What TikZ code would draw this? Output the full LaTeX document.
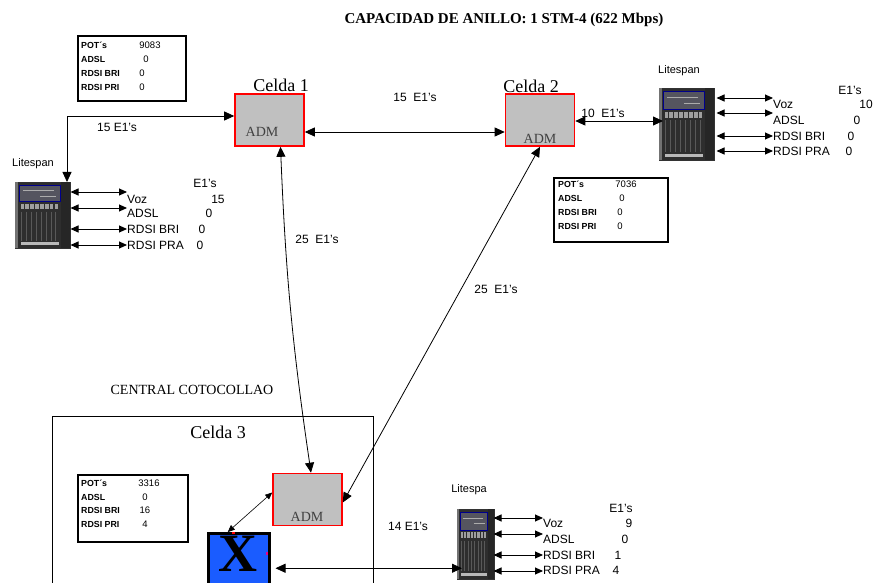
\documentclass[tikz,border=0pt]{standalone}
\usepackage{fontspec}
\setmainfont{Liberation Serif}
\setsansfont{Liberation Sans}
\usetikzlibrary{arrows.meta,calc}

\definecolor{admgray}{HTML}{C0C0C0}
\definecolor{swblue}{HTML}{1A5CFF}
\definecolor{devbody}{HTML}{2E2E2E}
\definecolor{devpanel}{HTML}{55555F}

\tikzset{
  admbox/.style={draw=red, line width=1.6pt, fill=admgray, minimum width=69pt, minimum height=52pt, inner sep=0pt},
  admtext/.style={font=\fontsize{14}{14}\selectfont, text=black!75, inner sep=0pt},
  celda/.style={font=\fontsize{18}{18}\selectfont, inner sep=0pt},
  infobox/.style={draw=black, line width=2.2pt, anchor=north west, inner sep=0pt},
  infokey/.style={font=\sffamily\bfseries\fontsize{8.8}{8.8}\selectfont, anchor=west, inner sep=0pt},
  infoval/.style={font=\sffamily\fontsize{9.5}{9.5}\selectfont, inner sep=0pt},
  lbl/.style={font=\sffamily\fontsize{12}{12}\selectfont, inner sep=0pt},
  rowlbl/.style={lbl, anchor=west},
  devbox/.style={draw=black!80, line width=0.5pt, fill=devbody, inner sep=0pt},
  link/.style={line width=0.8pt, {Triangle[length=10pt,width=9pt]}-{Triangle[length=10pt,width=9pt]}},
  rowlink/.style={line width=0.9pt, {Triangle[length=8pt,width=7pt]}-{Triangle[length=8pt,width=7pt]}},
  thinlink/.style={line width=0.6pt, {Triangle[length=7pt,width=6pt]}-{Triangle[length=7pt,width=6pt]}},
}

% Litespan shelf: name, x, y (top-left corner), width, height
\newcommand\drawlitespan[5]{%
  \node[devbox, anchor=north west, minimum width=#4pt, minimum height=#5pt] (#1) at (#2,#3) {};
  \begin{scope}[shift={(#2,#3)}, xscale=#4, yscale=#5]
    \fill[black!55] (0,0) rectangle (0.06,1);
    \fill[devpanel] (0.08,0.05) rectangle (0.82,0.3);
    \draw[blue!55!black, line width=0.6pt] (0.08,0.05) rectangle (0.82,0.3);
    \draw[gray!65, line width=0.6pt] (0.15,0.13) -- (0.7,0.13) (0.45,0.21) -- (0.75,0.21);
    \foreach \k in {0,...,7} \fill[gray!75] (0.1+\k*0.09,0.33) rectangle ++(0.06,0.08);
    \foreach \k in {1,...,8} \draw[black!65, line width=0.4pt] (\k*0.09+0.02,0.45) -- (\k*0.09+0.02,0.89);
    \fill[gray!55] (0.1,0.91) rectangle (0.8,0.96);
    \fill[black!85] (0.84,0) rectangle (1,1);
  \end{scope}}

\begin{document}
\begin{tikzpicture}[x=1pt, y=-1pt]
\useasboundingbox (0,0) rectangle (879,583);
\fill[white] (0,0) rectangle (879,583);
\clip (0,0) rectangle (879,583);

% title
\node[font=\bfseries\fontsize{15}{15}\selectfont, inner sep=0pt] (title) at (504,20) {CAPACIDAD DE ANILLO: 1 STM-4 (622 Mbps)};

% ---- ring nodes ----
\node[celda] (c1) at (281,85) {Celda 1};
\node[admbox] (adm1) at (269.5,120) {};
\node[admtext] (adm1t) at (262,132) {ADM};

\node[celda] (c2) at (531,86) {Celda 2};
\node[admbox] (adm2) at (540,120) {};
\node[admtext] (adm2t) at (540,139) {ADM};

% central office
\node[font=\fontsize{14}{14}\selectfont, inner sep=0pt] (cot) at (192,390) {CENTRAL COTOCOLLAO};
\node[draw=black, line width=0.8pt, anchor=north west, minimum width=321pt, minimum height=200pt, inner sep=0pt] (central) at (52,416) {};
\node[celda] (c3) at (218,432) {Celda 3};
\node[admbox] (adm3) at (307.5,499.5) {};
\node[admtext] (adm3t) at (307,517) {ADM};

% cross-connect
\node[draw=black, line width=2.5pt, fill=swblue, anchor=north west, minimum width=61pt, minimum height=56pt, inner sep=0pt] (sw) at (207,532) {};
\node[font=\bfseries\fontsize{54}{54}\selectfont, inner sep=0pt] (swx) at (237.5,554) {X};
\fill[red] (232,531.5) rectangle (234.5,534);
\fill[magenta] (265.5,552) rectangle (268,554.5);

% ---- Litespan shelves ----
\drawlitespan{ls1}{15}{182}{55}{66}
\drawlitespan{ls2}{659}{88}{55}{72}
\drawlitespan{ls3}{457}{509}{37}{70}
\node[lbl, font=\sffamily\fontsize{11}{11}\selectfont] (ls1n) at (33,164) {Litespan};
\node[lbl, font=\sffamily\fontsize{11}{11}\selectfont] (ls2n) at (679,71) {Litespan};
\node[lbl, font=\sffamily\fontsize{11}{11}\selectfont] (ls3n) at (469,490) {Litespa};

% ---- info boxes ----
\node[infobox, minimum width=108pt, minimum height=65pt] (pot1) at (77,35) {};
\node[infokey] at (81,45) {POT´s};    \node[infoval] at (150,45) {9083};
\node[infokey] at (81,59) {ADSL};     \node[infoval] at (146,59) {0};
\node[infokey] at (81,73) {RDSI BRI}; \node[infoval] at (142,73) {0};
\node[infokey] at (81,87) {RDSI PRI}; \node[infoval] at (142,87) {0};

\node[infobox, minimum width=114pt, minimum height=64pt] (pot2) at (553,177) {};
\node[infokey] at (558,184) {POT´s};    \node[infoval] at (626,184) {7036};
\node[infokey] at (558,198) {ADSL};     \node[infoval] at (622,198) {0};
\node[infokey] at (558,212) {RDSI BRI}; \node[infoval] at (620,212) {0};
\node[infokey] at (558,226) {RDSI PRI}; \node[infoval] at (620,226) {0};

\node[infobox, minimum width=110pt, minimum height=67pt] (pot3) at (77,474) {};
\node[infokey] at (81,483) {POT´s};    \node[infoval] at (149,483) {3316};
\node[infokey] at (81,497) {ADSL};     \node[infoval] at (145,497) {0};
\node[infokey] at (81,510) {RDSI BRI}; \node[infoval] at (145,510) {16};
\node[infokey] at (81,524) {RDSI PRI}; \node[infoval] at (145,524) {4};

% ---- ring links ----
\draw[link] ([yshift=-12pt]adm1.east) -- ([yshift=-12pt]adm2.west);
\node[lbl] (l12) at (415,97) {15\ \ E1's};

\draw[link] ([xshift=11pt]adm1.south) to[bend right=3] ([xshift=3.5pt]adm3.north);
\node[lbl] (l13) at (317,239) {25\ \ E1's};

\draw[link] (adm2.south) -- ([yshift=-3pt]adm3.east);
\node[lbl] (l23) at (496,289) {25\ \ E1's};

% ---- tributary links ----
\coordinate (bend1) at (67,116);
\draw[link] ([yshift=4pt]adm1.west) -- (bend1) -- (bend1 |- ls1.north);
\node[lbl] (t1) at (117,127) {15 E1's};

\draw[link] ([yshift=-1pt]adm2.east) -- ([yshift=-1pt,xshift=4pt]adm2.east -| ls2.west);
\node[lbl] (t2) at (603,113) {10\ \ E1's};

\draw[thinlink] ([yshift=7pt]adm3.west) -- ([xshift=-11pt]sw.north);
\draw[link] ([shift={(5pt,-7pt)}]sw.east) -- ([shift={(5pt,-7pt)}]sw.east -| ls3.west);
\node[lbl] (t3) at (408,526) {14 E1's};

% ---- service rows: left shelf ----
\coordinate (a1) at (127,192); \coordinate (a2) at (127,208);
\coordinate (a3) at (127,229); \coordinate (a4) at (127,245);
\foreach \r in {a1,a2,a3,a4} \draw[rowlink] (ls1.east |- \r) -- (\r);
\node[lbl] at (205,183) {E1's};
\node[rowlbl] at (127,199) {Voz};      \node[lbl] at (218,199) {15};
\node[rowlbl] at (127,213) {ADSL};     \node[lbl] at (209,213) {0};
\node[rowlbl] at (127,229) {RDSI BRI}; \node[lbl] at (202,229) {0};
\node[rowlbl] at (127,245) {RDSI PRA}; \node[lbl] at (200,245) {0};

% ---- service rows: right shelf ----
\coordinate (b1) at (773,98);  \coordinate (b2) at (773,113);
\coordinate (b3) at (773,136); \coordinate (b4) at (773,151);
\foreach \r in {b1,b2,b3,b4} \draw[rowlink] ([xshift=2pt]ls2.east |- \r) -- (\r);
\node[lbl] at (850,90) {E1's};
\node[rowlbl] at (773,104) {Voz};      \node[lbl] at (866,104) {10};
\node[rowlbl] at (773,120) {ADSL};     \node[lbl] at (857,120) {0};
\node[rowlbl] at (773,136) {RDSI BRI}; \node[lbl] at (851,136) {0};
\node[rowlbl] at (773,151) {RDSI PRA}; \node[lbl] at (849,151) {0};

% ---- service rows: bottom shelf ----
\coordinate (d1) at (543,518); \coordinate (d2) at (543,534);
\coordinate (d3) at (543,555); \coordinate (d4) at (543,571);
\foreach \r in {d1,d2,d3,d4} \draw[rowlink] ([xshift=-1pt]ls3.east |- \r) -- (\r);
\node[lbl] at (621,508) {E1's};
\node[rowlbl] at (543,523) {Voz};      \node[lbl] at (629,523) {9};
\node[rowlbl] at (543,539) {ADSL};     \node[lbl] at (625,539) {0};
\node[rowlbl] at (543,555) {RDSI BRI}; \node[lbl] at (618,555) {1};
\node[rowlbl] at (543,570) {RDSI PRA}; \node[lbl] at (616,570) {4};
\end{tikzpicture}
\end{document}
